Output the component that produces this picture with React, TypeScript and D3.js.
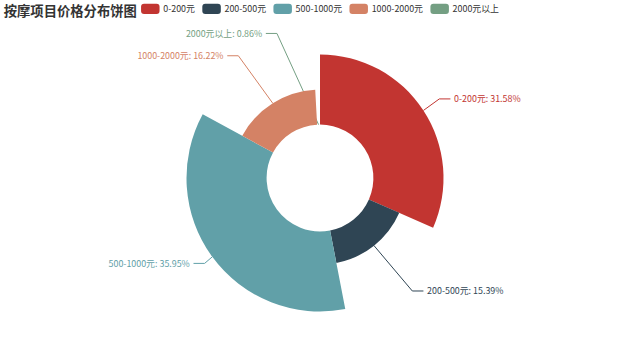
import React, { useMemo } from 'react';
import * as d3 from 'd3';

const title = '按摩项目价格分布饼图';
const categories = ['0-200元', '200-500元', '500-1000元', '1000-2000元', '2000元以上'];
const percents = [31.58, 15.39, 35.95, 16.22, 0.86];
const colors = ['#c23531', '#2f4554', '#61a0a8', '#d48265', '#749f83'];

const W = 640;
const H = 356;
const S = 0.74; // rendering scale of the original chart
const FONT = "'Noto Sans CJK SC', 'Noto Sans', sans-serif";
const LABEL_SIZE = 12 * S;
const TITLE_SIZE = 18 * S;

let ctx: CanvasRenderingContext2D | null = null;
function measure(text: string, size: number, weight = 'normal') {
  if (!ctx) ctx = document.createElement('canvas').getContext('2d');
  if (!ctx) return text.length * size * 0.6;
  ctx.font = `${weight} ${size}px ${FONT}`;
  return ctx.measureText(text).width;
}

type Lab = {
  i: number; x1: number; y1: number; x2: number; y2: number; x3: number;
  x: number; y: number; side: number; dist: number; h: number;
};

export default function App() {
  const cx = W / 2;
  const cy = H / 2;
  const base = Math.min(W, H) / 2;
  const R = base * 0.75;
  const r0 = base * 0.3;
  const len = 15 * S;
  const len2 = 15 * S;
  const labelDistance = 5 * S;

  const arcs = useMemo(
    () => d3.pie<number>().value((d) => d).sort(null).startAngle(0).endAngle(2 * Math.PI)(percents),
    []
  );
  const ext = d3.extent(percents) as [number, number];
  const rScale = d3.scaleLinear().domain(ext).range([r0, R]);
  const arcGen = d3
    .arc<d3.PieArcDatum<number>>()
    .innerRadius(r0)
    .outerRadius((d) => rScale(d.value));

  // label layout (echarts-like)
  const labels: Lab[] = arcs.map((a, i) => {
    const mid = (a.startAngle + a.endAngle) / 2;
    const dx = Math.sin(mid);
    const dy = -Math.cos(mid);
    const r = rScale(a.value);
    const x1 = cx + r * dx;
    const y1 = cy + r * dy;
    const x2 = cx + (R + len) * dx;
    const y2 = cy + (R + len) * dy;
    const side = dx < 0 ? -1 : 1;
    const x3 = x2 + side * len2;
    return { i, x1, y1, x2, y2, x3, x: x3 + side * labelDistance, y: y2, side, dist: x2 - x3, h: LABEL_SIZE * 1.35 };
  });

  const adjustSide = (list: Lab[], dir: number) => {
    list.sort((a, b) => a.y - b.y);
    let lastY = 0;
    for (let k = 0; k < list.length; k++) {
      const top = list[k].y - list[k].h / 2;
      const delta = top - lastY;
      if (delta < 0) {
        for (let j = k; j < list.length; j++) list[j].y += -delta;
      }
      lastY = list[k].y + list[k].h / 2;
    }
    const up = list.filter((l) => l.y < cy);
    const down = list.filter((l) => l.y >= cy);
    const changeX = (lst: Lab[], isDown: boolean) => {
      let lastDeltaX = isDown ? Number.MAX_VALUE : 0;
      for (const l of lst) {
        const deltaY = Math.abs(l.y - cy);
        let deltaX =
          deltaY < R + len
            ? Math.sqrt((R + len + len2) * (R + len + len2) - deltaY * deltaY)
            : Math.abs(l.x - cx);
        if (isDown && deltaX >= lastDeltaX) deltaX = lastDeltaX - 10;
        if (!isDown && deltaX <= lastDeltaX) deltaX = lastDeltaX + 10;
        l.x = cx + deltaX * dir;
        lastDeltaX = deltaX;
      }
    };
    changeX(up, false);
    changeX(down, true);
  };
  adjustSide(labels.filter((l) => l.x >= cx), 1);
  adjustSide(labels.filter((l) => l.x < cx), -1);

  // legend layout
  const iconW = 25 * S;
  const iconH = 14 * S;
  const iconGap = 5 * S;
  const itemGap = 10 * S;
  const widths = categories.map((c) => iconW + iconGap + measure(c, LABEL_SIZE));
  const total = d3.sum(widths) + itemGap * (categories.length - 1);
  let lx = (W - total) / 2;
  const legendItems = categories.map((c, i) => {
    const x = lx;
    lx += widths[i] + itemGap;
    return { c, x, color: colors[i] };
  });
  const legendTop = 5 * S;

  return (
    <svg
      width={W}
      height={H}
      style={{ position: 'fixed', left: 0, top: 0, background: '#fff' }}
      fontFamily={FONT}
    >
      <text x={5 * S} y={5 * S + TITLE_SIZE / 2} fontSize={TITLE_SIZE} fontWeight="bold" fill="#333" dominantBaseline="central">
        {title}
      </text>
      <g>
        {legendItems.map((it) => (
          <g key={it.c}>
            <rect x={it.x} y={legendTop} width={iconW} height={iconH} rx={3} ry={3} fill={it.color} />
            <text
              x={it.x + iconW + iconGap}
              y={legendTop + iconH / 2}
              fontSize={LABEL_SIZE}
              fill="#333"
              dominantBaseline="central"
            >
              {it.c}
            </text>
          </g>
        ))}
      </g>
      <g>
        {labels.map((l) => {
          const px2 = l.x + (l.x < cx ? labelDistance : -labelDistance);
          const px1 = px2 + l.dist;
          return (
            <polyline
              key={'l' + l.i}
              points={`${l.x1},${l.y1} ${px1},${l.y} ${px2},${l.y}`}
              fill="none"
              stroke={colors[l.i]}
              strokeWidth={1}
            />
          );
        })}
      </g>
      <g transform={`translate(${cx},${cy})`}>
        {arcs.map((a, i) => (
          <path key={categories[i]} d={arcGen(a) || ''} fill={colors[i]} />
        ))}
      </g>
      <g>
        {labels.map((l) => (
          <text
            key={'t' + l.i}
            x={l.x}
            y={l.y}
            fontSize={LABEL_SIZE}
            fill={colors[l.i]}
            textAnchor={l.x < cx ? 'end' : 'start'}
            dominantBaseline="central"
          >
            {`${categories[l.i]}: ${percents[l.i].toFixed(2)}%`}
          </text>
        ))}
      </g>
    </svg>
  );
}
